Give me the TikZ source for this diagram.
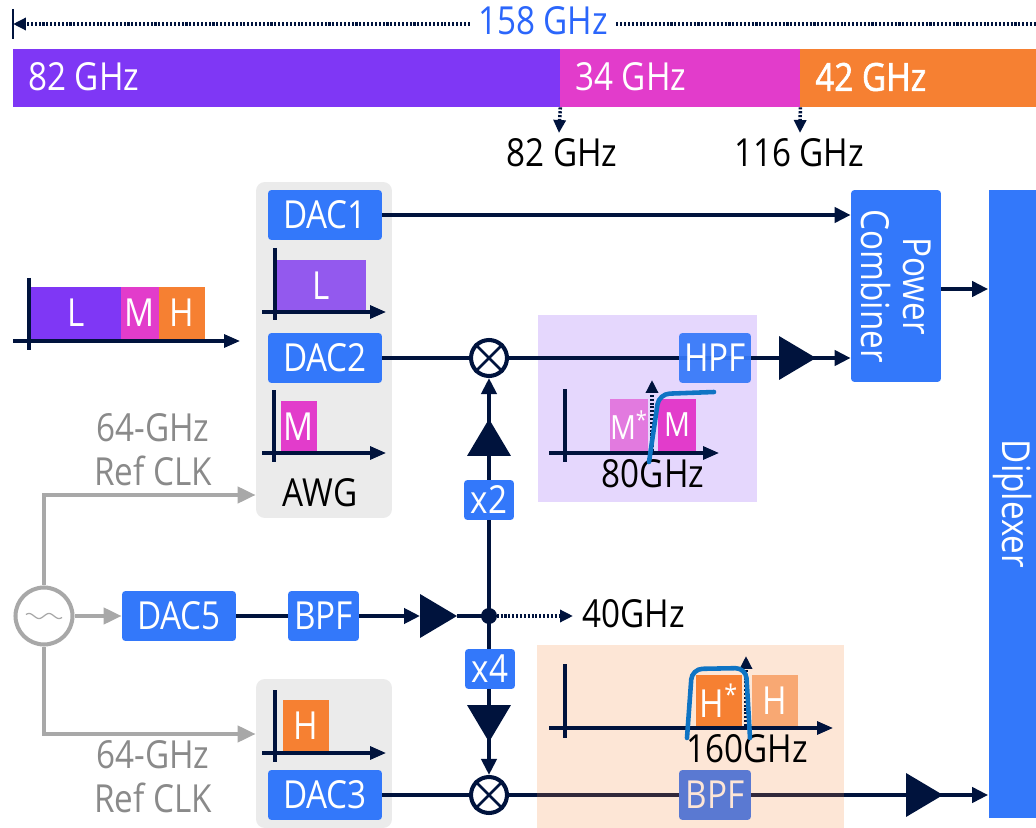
\documentclass[tikz,border=0pt]{standalone}
\usepackage{fontspec}
\setmainfont{Open Sans}[FakeStretch=0.86]
\newfontfamily\medfont{Open Sans}[FakeStretch=0.86,FakeBold=1.5]
\usetikzlibrary{arrows.meta,shapes.geometric}
\definecolor{navy}{HTML}{00133D}
\definecolor{boxblue}{HTML}{3378FA}
\definecolor{purp}{HTML}{7F37F5}
\definecolor{purplite}{HTML}{9359EE}
\definecolor{mag}{HTML}{E23CCB}
\definecolor{maglite}{HTML}{E27ADF}
\definecolor{oran}{HTML}{F68032}
\definecolor{oranlite}{HTML}{F8A873}
\definecolor{clkgray}{HTML}{A8A8A8}
\definecolor{txtgray}{HTML}{8A8A8A}
\definecolor{filt}{HTML}{0F74C4}
\newcommand{\lblfont}{\fontsize{22}{25}\selectfont}
\tikzset{
  bluebox/.style={fill=boxblue,rounded corners=2pt,text=white,font=\lblfont,inner sep=0pt,minimum height=1cm},
  bandbar/.style={text=white,font=\lblfont,inner sep=0pt,minimum height=1.04cm},
  sigline/.style={navy,line width=2.3pt},
  sigarrow/.style={sigline,-{Triangle[length=.32cm,width=.3cm]}},
  axisline/.style={navy,line width=1.8pt},
  axisarrow/.style={axisline,-{Triangle[length=.32cm,width=.26cm]}},
  dotted line/.style={navy,line width=2pt,dash pattern=on 1.2pt off 1pt},
  dotline/.style={dotted line,-{Triangle[length=.26cm,width=.24cm]}},
  clkline/.style={clkgray,line width=2.3pt},
  clkarrow/.style={clkline,-{Triangle[length=.36cm,width=.32cm]}},
  amp/.style={isosceles triangle,isosceles triangle stretches,fill=navy,inner sep=0pt,outer sep=0pt,minimum width=.88cm,minimum height=.74cm},
  mixer/.style={circle,draw=navy,fill=white,line width=2.3pt,inner sep=0pt,minimum size=.72cm},
  filtcurve/.style={filt,line width=2.6pt,line cap=round},
  elegant/.style={smooth,samples=40}
}
\begin{document}
\begin{tikzpicture}[x=0.02cm,y=-0.02cm]
\useasboundingbox (0,0) rectangle (1036,828);
% spectrum
\coordinate (barend) at (13,24);
\draw[navy,line width=1.5pt] (13,9) -- (13,39);
\node[text=boxblue!85!blue,font=\lblfont,inner sep=0pt] (total) at (543,21) {158 GHz};
\coordinate (rightend) at (1036,24);
\draw[dotline] (total.west |- barend) ++(-8,0) -- (barend);
\draw[dotted line] (total.east |- rightend) ++(8,0) -- (rightend);
\node[bandbar,fill=purp,minimum width=10.94cm,minimum height=1.16cm] (bandl) at (286.5,78) {};
\node[bandbar,fill=mag,minimum width=4.8cm,minimum height=1.16cm] (bandm) at (680,78) {};
\node[bandbar,fill=oran,minimum width=4.72cm,minimum height=1.16cm] (bandh) at (918,78) {};
\node[text=white,font=\lblfont,anchor=west,inner sep=0pt] (lbll) at (28,77) {82 GHz};
\node[text=white,font=\lblfont,anchor=west,inner sep=0pt] (lblm) at (575,77) {34 GHz};
\node[text=white,font=\medfont\lblfont,anchor=west,inner sep=0pt] (lblh) at (815,77) {42 GHz};
\node[font=\lblfont,inner sep=0pt] (f82) at (562,153) {82 GHz};
\node[font=\lblfont,inner sep=0pt] (f116) at (799,153) {116 GHz};
\draw[dotline] (bandl.south east) -- (559,133);
\draw[dotline] (bandm.south east) -- (800,133);
% backgrounds
\node[fill=black!8,rounded corners=5pt,minimum width=2.72cm,minimum height=6.72cm,inner sep=0pt] (awg) at (324,350) {};
\node[fill=black!8,rounded corners=5pt,minimum width=2.72cm,minimum height=2.98cm,inner sep=0pt] (awgb) at (324,753.5) {};
\node[fill=purp,fill opacity=.2,minimum width=4.38cm,minimum height=3.74cm,inner sep=0pt] (purpbg) at (647.5,408.5) {};
% blocks
\node[bluebox,minimum width=2.28cm] (dac1) at (325,215) {DAC1};
\node[bluebox,minimum width=2.28cm] (dac2) at (325,358) {DAC2};
\node[bluebox,minimum width=2.28cm] (dac3) at (325,795) {DAC3};
\node[bluebox,minimum width=2.28cm] (dac5) at (179,616) {DAC5};
\node[bluebox,minimum width=1.42cm] (bpfa) at (323.5,616) {BPF};
\node[bluebox,rotate=-90,minimum width=3.84cm,minimum height=1.8cm,align=center] (combiner) at (896,286) {Power\\[-1pt]Combiner};
\node[bluebox,rounded corners=0pt,rotate=-90,minimum width=12.56cm,minimum height=.96cm] (diplexer) at (1012.5,504) {Diplexer};
\node[mixer] (mixa) at (489,358) {};
\node[mixer] (mixb) at (489,795) {};
\coordinate (jct) at (489,616);
\node[amp,anchor=apex] (ampa) at (816,358) {};
\node[amp,anchor=apex] (ampb) at (943,795) {};
\node[amp,anchor=apex] (ampc) at (457,616) {};
\node[amp,anchor=apex,shape border rotate=90] (ampx2) at (489,419) {};
\node[amp,anchor=apex,shape border rotate=-90] (ampx4) at (489,742) {};
% connectors
\draw[sigarrow] (dac1.east) -- (dac1 -| combiner.south);
\draw[sigarrow] (combiner.north |- 0,289) -- (diplexer.south |- 0,289);
\draw[sigline] (dac2.east) -- (mixa.west);
\draw[sigarrow] (mixa.east) -- (dac2 -| combiner.south);
\draw[sigline] (dac3.east) -- (mixb.west);
\draw[sigarrow] (mixb.east) -- (dac3 -| diplexer.south);
\draw[sigline] (dac5.east) -- (bpfa.west);
\draw[sigarrow] (bpfa.east) -- (bpfa -| ampc.lower side);
\draw[sigline] (ampc) -- (jct);
\draw[sigarrow] (jct) -- (mixa.south);
\draw[sigarrow] (jct) -- (mixb.north);
\draw[navy,line width=1.6pt] (mixa.north west) -- (mixa.south east) (mixa.north east) -- (mixa.south west);
\draw[navy,line width=1.6pt] (mixb.north west) -- (mixb.south east) (mixb.north east) -- (mixb.south west);
\fill[navy] (jct) circle (.16cm);
\node[font=\lblfont,inner sep=0pt,anchor=west] (f40) at (582,614) {40GHz};
\coordinate (f40tip) at (573,616);
\draw[dotline] (jct) -- (f40tip);
\node[bluebox,minimum width=1cm,minimum height=.8cm] (x2) at (489,500) {x2};
\node[bluebox,minimum width=1cm,minimum height=.8cm] (x4) at (490,669) {x4};
\node[bluebox,minimum width=1.44cm,fill opacity=.92,text opacity=1] (hpf) at (715,358) {HPF};
\node[bluebox,minimum width=1.44cm] (bpfb) at (715,795) {BPF};
\node[fill=oran,fill opacity=.2,minimum width=6.14cm,minimum height=3.66cm,inner sep=0pt] (oranbg) at (690.5,736.5) {};
% clock
\node[circle,draw=clkgray,fill=white,line width=2.3pt,inner sep=0pt,minimum size=1.14cm] (osc) at (44,616) {};
\draw[clkgray,line width=.7pt,elegant,domain=-18:18] plot({44+\x},{616-2.5*sin(\x*18)});
\coordinate (clka) at (44,495);
\coordinate (clkb) at (44,734);
\draw[clkarrow] (osc.north) -- (clka) -- (clka -| awg.west);
\draw[clkarrow] (osc.south) -- (clkb) -- (clkb -| awgb.west);
\draw[clkarrow] (osc.east) -- (dac5.west);
\node[text=txtgray,font=\lblfont,align=center,inner sep=0pt] (refa) at (153,450) {64-GHz\\Ref CLK};
\node[text=txtgray,font=\lblfont,align=center,inner sep=0pt] (refb) at (153,777) {64-GHz\\Ref CLK};
\node[font=\lblfont,inner sep=0pt] (awglbl) at (320,493) {AWG};
% input spectrum
\node[bandbar,fill=purp,minimum width=1.8cm] (inl) at (76,313) {L};
\node[bandbar,fill=mag,minimum width=.76cm] (inm) at (140,313) {M};
\node[bandbar,fill=oran,minimum width=.92cm] (inh) at (182,313) {H};
\draw[axisline] (29,278) -- (29,350);
\draw[axisarrow] (13,341) -- (240,341);
% awg spectra
\node[bandbar,fill=purplite,minimum width=1.8cm] (awgl) at (321,285.5) {L};
\draw[axisline] (275,248) -- (275,320);
\draw[axisarrow] (262,312) -- (386,312);
\node[bandbar,fill=mag,minimum width=.72cm] (awgm) at (299,426.5) {M};
\draw[axisline] (274,390) -- (274,462);
\draw[axisarrow] (262,453) -- (386,453);
\node[bandbar,fill=oran,minimum width=.92cm] (awgh) at (306,725.5) {H};
\draw[axisline] (275,690) -- (275,762);
\draw[axisarrow] (262,753) -- (386,753);
% hpf spectrum
\node[bandbar,fill=maglite,minimum width=.76cm,font=\fontsize{19}{22}\selectfont] (msa) at (629,425) {\makebox[0pt]{M\textsuperscript{*}}};
\node[bandbar,fill=mag,minimum width=.76cm,font=\fontsize{19}{22}\selectfont] (msb) at (677,425) {M};
\draw[axisline] (565,389) -- (565,462);
\draw[axisarrow] (549,453) -- (719,453);
\draw[dotline] (652,451) -- (652,380);
\node[font=\lblfont,inner sep=0pt] (f80) at (653,474) {80GHz};
\draw[filtcurve,rounded corners=6pt] (649,462) -- (659,394) -- (714,392);
% bpf spectrum
\node[bandbar,fill=oran,minimum width=.92cm] (hsa) at (719,701) {\makebox[0pt]{H\textsuperscript{*}}};
\node[bandbar,fill=oranlite,minimum width=.92cm] (hsb) at (775,701) {H};
\draw[axisline] (565,664) -- (565,738);
\draw[axisarrow] (549,728) -- (833,728);
\draw[dotline] (746,726) -- (746,656);
\node[font=\lblfont,inner sep=0pt] (f160) at (747,749) {160GHz};
\draw[filtcurve,rounded corners=6pt] (687,738) -- (692,669) -- (746,668) -- (750,738);
\end{tikzpicture}
\end{document}
